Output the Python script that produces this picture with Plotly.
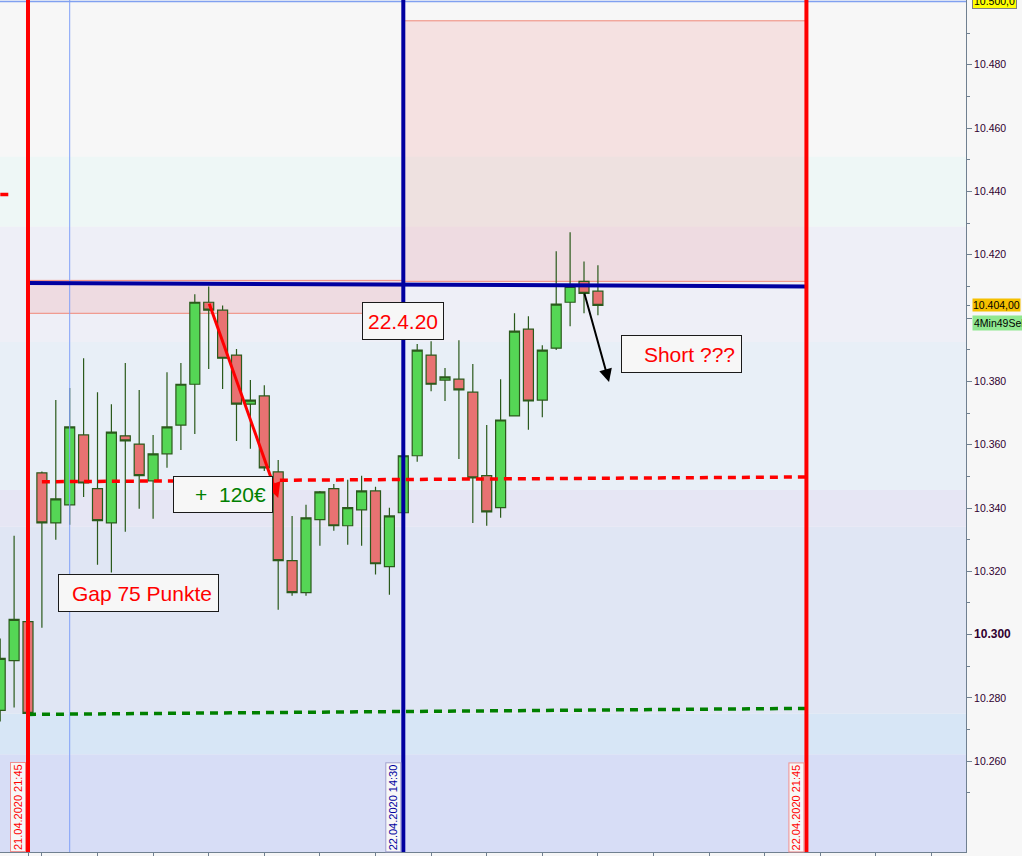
import plotly.graph_objects as go

# ---------------- data (15-min candles, index 0 = first visible candle) ----------------
candle_idx = list(range(44))
opens = [10.2761, 10.2918, 10.3041, 10.3511, 10.3353, 10.3410, 10.3631, 10.3461, 10.3353, 10.3628,
         10.3602, 10.3486, 10.3571, 10.3662, 10.3791, 10.4050, 10.4025, 10.3883, 10.3728, 10.3754,
         10.3514, 10.3234, 10.3133, 10.3363, 10.3461, 10.3344, 10.3394, 10.3454, 10.3215, 10.3385,
         10.3565, 10.3883, 10.3804, 10.3807, 10.3766, 10.3502, 10.3401, 10.3691, 10.3965, 10.3741,
         10.3905, 10.4050, 10.4116, 10.4085]
highs = [10.2988, 10.3312, 10.3051, 10.3515, 10.3741, 10.3779, 10.3873, 10.3766, 10.3728, 10.3858,
         10.3773, 10.3631, 10.3829, 10.3858, 10.4075, 10.4100, 10.4040, 10.3902, 10.3804, 10.3788,
         10.3552, 10.3375, 10.3410, 10.3454, 10.3476, 10.3489, 10.3502, 10.3467, 10.3401, 10.3571,
         10.3918, 10.3927, 10.3842, 10.3930, 10.3855, 10.3662, 10.3807, 10.4015, 10.4006, 10.3914,
         10.4211, 10.4271, 10.4179, 10.4167]
lows = [10.2726, 10.2770, 10.2748, 10.3022, 10.3300, 10.3347, 10.3435, 10.3221, 10.3196, 10.3325,
        10.3398, 10.3366, 10.3527, 10.3583, 10.3634, 10.3839, 10.3776, 10.3612, 10.3587, 10.3517,
        10.3079, 10.3123, 10.3123, 10.3281, 10.3328, 10.3284, 10.3281, 10.3190, 10.3126, 10.3379,
        10.3546, 10.3769, 10.3738, 10.3555, 10.3353, 10.3344, 10.3369, 10.3691, 10.3647, 10.3687,
        10.3899, 10.3974, 10.4015, 10.4009]
closes = [10.2925, 10.3048, 10.2751, 10.3353, 10.3429, 10.3656, 10.3479, 10.3360, 10.3640, 10.3612,
          10.3502, 10.3571, 10.3656, 10.3791, 10.4050, 10.4025, 10.3873, 10.3728, 10.3741, 10.3527,
          10.3234, 10.3133, 10.3369, 10.3451, 10.3344, 10.3401, 10.3454, 10.3224, 10.3375, 10.3565,
          10.3899, 10.3791, 10.3814, 10.3773, 10.3495, 10.3388, 10.3678, 10.3959, 10.3738, 10.3899,
          10.4044, 10.4100, 10.4078, 10.4040]

# axis
x_range = [-0.014, 69.48]
y_range = [10.23134, 10.50047]
y_major = [10.26, 10.28, 10.30, 10.32, 10.34, 10.36, 10.38, 10.40, 10.42, 10.44, 10.46, 10.48]
y_major_text = ["10.260", "10.280", '<span style="font-size:12px"><b>10.300</b></span>', "10.320",
                "10.340", "10.360", "10.380", "", "10.420", "10.440", "10.460", "10.480"]
y_minor = [10.25, 10.27, 10.29, 10.31, 10.33, 10.35, 10.37, 10.39, 10.404, 10.41, 10.43, 10.45,
           10.47, 10.49]
x_ticks = [2, 3, 7, 11, 15, 19, 23, 27, 31, 35, 39, 43, 47, 51, 55, 59, 63, 67]

# background price bands (lower edges, colours)
band_edges = [10.2313, 10.2622, 10.2751, 10.3341, 10.3457, 10.3924, 10.4289, 10.4510]
band_colors = ["#d7ddf6", "#d7e6f6", "#e0e6f4", "#e6e6f4", "#e8eff7", "#eeeff7", "#eef7f6", "#f7f7f7"]

# vertical markers (candle index)
vline_red = [2, 58]
vline_blue = 29
vline_thin = 5
# horizontal / sloped lines: (x0, y0, x1, y1)
blue_level = (2, 10.4111, 58, 10.4100)
red_level = (3, 10.3483, 58, 10.3498)
green_level = (2, 10.2748, 58, 10.2767)
red_old_level = (-1, 10.4390, 1, 10.4390)
top_level = 10.500
# zones: (x0, x1, y0, y1)
zone_left = (2, 29, 10.4015, 10.4119)
zone_right = (29, 58, 10.4116, 10.4939)

# arrows: (tail x, tail y, head x, head y)
arrow_red = (15.0, 10.4050, 20.0, 10.3432)
arrow_black = (42.0, 10.4082, 43.8, 10.3798)

# text boxes: text, x, y, box w, box h, colour, align
boxes = [
    ("22.4.20", 29.0, 10.3990, 82, 38, "#ff0000", "center"),
    ("+  120€", 16.03, 10.3443, 100, 37, "#008000", "right"),
    ("Gap 75 Punkte", 9.95, 10.3130, 161, 38, "#ff0000", "right"),
    ("Short ???", 49.0, 10.3886, 121, 38, "#ff0000", "right"),
]
date_labels = [("21.04.2020 21:45", 2, "#ff0000", "#f09090"),
               ("22.04.2020 14:30", 29, "#0000a0", "#a0a0d0"),
               ("22.04.2020 21:45", 58, "#ff0000", "#f09090")]
last_price = 10.404
last_price_text = "10.404,00"
timer_text = "4Min49Sek"
timer_y = 10.3984
top_text = "10.500,0"

FONT = "Liberation Sans"

fig = go.Figure()
fig.add_trace(go.Candlestick(
    x=candle_idx, open=opens, high=highs, low=lows, close=closes,
    increasing=dict(fillcolor="#55d655", line=dict(color="#2b5a1c", width=1.2)),
    decreasing=dict(fillcolor="#e87272", line=dict(color="#2b5a1c", width=1.2)),
    whiskerwidth=0, hoverinfo="skip", showlegend=False))

shapes = []
for k, col in enumerate(band_colors):
    y_top = band_edges[k + 1] if k + 1 < len(band_edges) else y_range[1]
    shapes.append(dict(type="rect", xref="paper", x0=0, x1=1, yref="y", y0=band_edges[k],
                       y1=y_top, fillcolor=col, line=dict(width=0), layer="below"))
for z in (zone_left, zone_right):
    shapes.append(dict(type="rect", xref="x", yref="y", x0=z[0], x1=z[1], y0=z[2], y1=z[3],
                       fillcolor="rgba(240,128,128,0.18)", line=dict(color="#f08878", width=1),
                       layer="below"))

def seg(p, color, width, dash="solid"):
    return dict(type="line", xref="x", yref="y", x0=p[0], y0=p[1], x1=p[2], y1=p[3],
                line=dict(color=color, width=width, dash=dash), layer="above")

shapes.append(dict(type="line", xref="x", yref="paper", x0=vline_thin, x1=vline_thin, y0=0, y1=1,
                   line=dict(color="#80a0f8", width=1), layer="above"))
shapes.append(dict(type="line", xref="paper", yref="y", x0=0, x1=1, y0=top_level, y1=top_level,
                   line=dict(color="#80a0f0", width=1.5), layer="above"))
shapes.append(seg(red_old_level, "#ff0000", 3.5, "8px,6px"))
shapes.append(seg(red_level, "#ff0000", 3.5, "8px,6px"))
shapes.append(seg(green_level, "#008000", 3.5, "8px,6px"))
shapes.append(seg(blue_level, "#0000a0", 4))
for xv in vline_red:
    shapes.append(dict(type="line", xref="x", yref="paper", x0=xv, x1=xv, y0=0, y1=1,
                       line=dict(color="#ff0000", width=4), layer="above"))
shapes.append(dict(type="line", xref="x", yref="paper", x0=vline_blue, x1=vline_blue, y0=0, y1=1,
                   line=dict(color="#0000a0", width=4), layer="above"))

annotations = []
annotations.append(dict(x=arrow_red[2], y=arrow_red[3], ax=arrow_red[0], ay=arrow_red[1],
                        xref="x", yref="y", axref="x", ayref="y", text="", showarrow=True,
                        arrowhead=2, arrowsize=1, arrowwidth=3, arrowcolor="#ff0000",
                        standoff=0, startstandoff=0))
annotations.append(dict(x=arrow_black[2], y=arrow_black[3], ax=arrow_black[0], ay=arrow_black[1],
                        xref="x", yref="y", axref="x", ayref="y", text="", showarrow=True,
                        arrowhead=2, arrowsize=1.3, arrowwidth=2, arrowcolor="#000000",
                        standoff=0, startstandoff=0))
for text, bx, by, bw, bh, col, al in boxes:
    pad = 5 if al == "center" else 6
    annotations.append(dict(x=bx, y=by, xref="x", yref="y", text=text, showarrow=False,
                            font=dict(family=FONT, size=21, color=col), bgcolor="#f7f7f7",
                            bordercolor="#1a1a1a", borderwidth=1, borderpad=pad,
                            width=bw - 2 - 2 * pad, height=bh - 2 - 2 * pad, align=al,
                            valign="middle", xanchor="center", yanchor="middle"))
for text, xv, col, bcol in date_labels:
    annotations.append(dict(x=xv, y=0, xref="x", yref="paper", text=text, showarrow=False,
                            textangle=-90, font=dict(family=FONT, size=11, color=col),
                            bgcolor="#f7f7f7", bordercolor=bcol, borderwidth=1, borderpad=1,
                            xanchor="center", yanchor="bottom", xshift=-10))
PW = 966.0
annotations.append(dict(x=972 / PW, y=top_level, xref="paper", yref="y", text=top_text,
                        showarrow=False, font=dict(family=FONT, size=10.5, color="#000000"),
                        bgcolor="#ffff00", bordercolor="#808080", borderwidth=1, borderpad=1,
                        xanchor="left", yanchor="middle"))
annotations.append(dict(x=972 / PW, y=last_price, xref="paper", yref="y", text=last_price_text,
                        showarrow=False, font=dict(family=FONT, size=10.5, color="#000000"),
                        bgcolor="#f5c000", borderpad=0, xanchor="left", yanchor="middle"))
annotations.append(dict(x=972 / PW, y=timer_y, xref="paper", yref="y", text=timer_text,
                        showarrow=False, font=dict(family=FONT, size=10.5, color="#000000"),
                        bgcolor="#90e890", borderpad=1, xanchor="left", yanchor="middle"))

fig.update_layout(
    width=1022, height=856,
    margin=dict(l=0, r=56, t=0, b=2),
    paper_bgcolor="#f7f7f7", plot_bgcolor="#f7f7f7",
    boxgap=0.1, boxgroupgap=0.2,
    shapes=shapes, annotations=annotations,
    showlegend=False, hovermode=False,
    xaxis=dict(range=x_range, showgrid=False, zeroline=False, showline=True, linecolor="#708090",
               ticks="outside", ticklen=4, tickcolor="#708090", tickvals=x_ticks,
               showticklabels=False, rangeslider=dict(visible=False), fixedrange=True),
    yaxis=dict(range=y_range, side="right", showgrid=False, zeroline=False, showline=True,
               linecolor="#708090", linewidth=1, ticks="outside", ticklen=5, tickcolor="#708090",
               tickvals=y_major, ticktext=y_major_text,
               tickfont=dict(family=FONT, size=10.5, color="#300030"),
               minor=dict(tickvals=y_minor, ticks="outside", ticklen=3, tickcolor="#708090"),
               fixedrange=True),
)

fig.write_html("out.html", config={"displayModeBar": False},
               post_script="document.body.style.margin='0';document.body.style.overflow='hidden';"
                           "document.body.style.background='#f7f7f7';")
